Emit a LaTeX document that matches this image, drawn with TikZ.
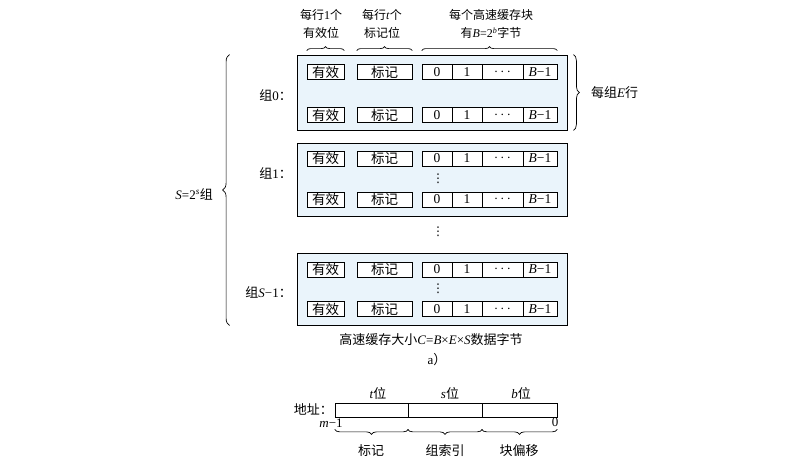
\documentclass[tikz,border=0pt]{standalone}
\usepackage{fontspec}
\setmainfont{Liberation Serif}
\newfontfamily\cjk{Noto Sans CJK SC}
\newfontfamily\sym{DejaVu Sans}
\usetikzlibrary{decorations.pathreplacing,calc}
\definecolor{setfill}{RGB}{234,244,251}
\newcommand\zh[1]{{\cjk #1}}
\tikzset{
  setbox/.style={draw=black, line width=0.8pt, fill=setfill, inner sep=0pt},
  cell/.style={draw=black, line width=0.7pt, fill=white, minimum height=15pt, inner sep=0pt, font=\fontsize{13.5}{13.5}\selectfont},
  addr/.style={draw=black, line width=0.7pt, minimum height=14pt, inner sep=0pt},
  lbl/.style={inner sep=0pt, align=center, font=\fontsize{12}{18}\selectfont},
  txt/.style={inner sep=0pt, align=center, font=\fontsize{13}{16}\selectfont},
  brc/.style={decorate, decoration={brace, amplitude=#1}, line width=0.7pt},
  brc/.default=5pt,
  vd/.style={inner sep=0pt, font=\sym\fontsize{12}{12}\selectfont}
}
\newcommand\cacherow[2]{%
  \node[cell, minimum width=37pt] (#1v) at (325.5,#2) {\zh{有效}};
  \node[cell, minimum width=55pt] (#1t) at (384.5,#2) {\zh{标记}};
  \node[cell, minimum width=30pt] (#1a) at (437,#2) {0};
  \node[cell, minimum width=30pt] (#1b) at (467,#2) {1};
  \node[cell, minimum width=41pt] (#1c) at (502.5,#2) {$\cdots$};
  \node[cell, minimum width=34pt] (#1d) at (540,#2) {\textit{B}−1};
}
\begin{document}
\begin{tikzpicture}[x=1pt,y=-1pt]
\useasboundingbox (0,0) rectangle (811,466);
% set boxes
\node[setbox, minimum width=270pt, minimum height=75pt] (set0) at (432,92.5) {};
\node[setbox, minimum width=270pt, minimum height=73pt] (set1) at (432,179.5) {};
\node[setbox, minimum width=270pt, minimum height=72pt] (setS) at (432,289) {};
% rows
\cacherow{r0}{72}
\cacherow{r1}{115}
\cacherow{s1a}{158.5}
\cacherow{s1b}{199.5}
\cacherow{sSa}{269.5}
\cacherow{sSb}{309}
% vertical dots
\node[vd] (d1) at (438,179) {⋮};
\node[vd] (d2) at (438,232) {⋮};
\node[vd] (d3) at (438,289) {⋮};
% top labels
\node[lbl] (l1) at (321,24) {\zh{每行}1\zh{个}\\\zh{有效位}};
\node[lbl] (l2) at (382,24) {\zh{每行}\textit{t}\zh{个}\\\zh{标记位}};
\node[lbl] (l3) at (491,24) {\zh{每个高速缓存块}\\\zh{有}\textit{B}=2\textsuperscript{\textit{b}}\zh{字节}};
% top braces
\draw[brc=4pt] ($(r0v.west |- set0.north)+(0,-4)$) -- ($(r0v.east |- set0.north)+(0,-4)$);
\draw[brc=4pt] ($(r0t.west |- set0.north)+(0,-4)$) -- ($(r0t.east |- set0.north)+(0,-4)$);
\draw[brc=4pt] ($(r0a.west |- set0.north)+(0,-4)$) -- ($(r0d.east |- set0.north)+(0,-4)$);
% right brace
\draw[brc=6pt] ($(set0.north east)+(6,0)$) -- ($(set0.south east)+(6,0)$);
\node[txt, anchor=west] (perset) at (591,93) {\zh{每组}\textit{E}\zh{行}};
% left brace
\draw[brc=7pt] ($(setS.south west)+(-67,0)$) -- ($(set0.north west)+(-67,0)$);
\node[txt, anchor=east] (nsets) at (213,194) {\textit{S}=2\textsuperscript{\textit{s}}\zh{组}};
% set labels
\node[txt, anchor=east] (g0) at (292,95) {\zh{组}0\zh{：}};
\node[txt, anchor=east] (g1) at (292,173) {\zh{组}1\zh{：}};
\node[txt, anchor=east] (gS) at (292,292) {\zh{组}\textit{S}−1\zh{：}};
% caption
\node[txt] (cap) at (431,340) {\zh{高速缓存大小}\textit{C}=\textit{B}×\textit{E}×\textit{S}\zh{数据字节}};
\node[txt] (capa) at (437,360) {a\zh{）}};
% address
\node[addr, minimum width=73pt] (at) at (371.5,410) {};
\node[addr, minimum width=74pt] (as) at (445,410) {};
\node[addr, minimum width=75pt] (ab) at (519.5,410) {};
\node[txt, anchor=east] (addrl) at (333,409) {\zh{地址：}};
\node[txt] (tb) at (378,393) {\textit{t}\zh{位}};
\node[txt] (sb) at (450,393) {\textit{s}\zh{位}};
\node[txt] (bb) at (521,393) {\textit{b}\zh{位}};
\node[txt] (m1) at (331,423) {\textit{m}−1};
\node[txt] (zero) at (555,422) {0};
\draw[brc=5pt] ($(at.south east)+(0,12)$) -- ($(at.south west)+(0,12)$);
\draw[brc=5pt] ($(as.south east)+(0,12)$) -- ($(as.south west)+(0,12)$);
\draw[brc=5pt] ($(ab.south east)+(0,12)$) -- ($(ab.south west)+(0,12)$);
\node[txt] (tagl) at (371,451) {\zh{标记}};
\node[txt] (setl) at (445,451) {\zh{组索引}};
\node[txt] (offl) at (519,451) {\zh{块偏移}};
\end{tikzpicture}
\end{document}
